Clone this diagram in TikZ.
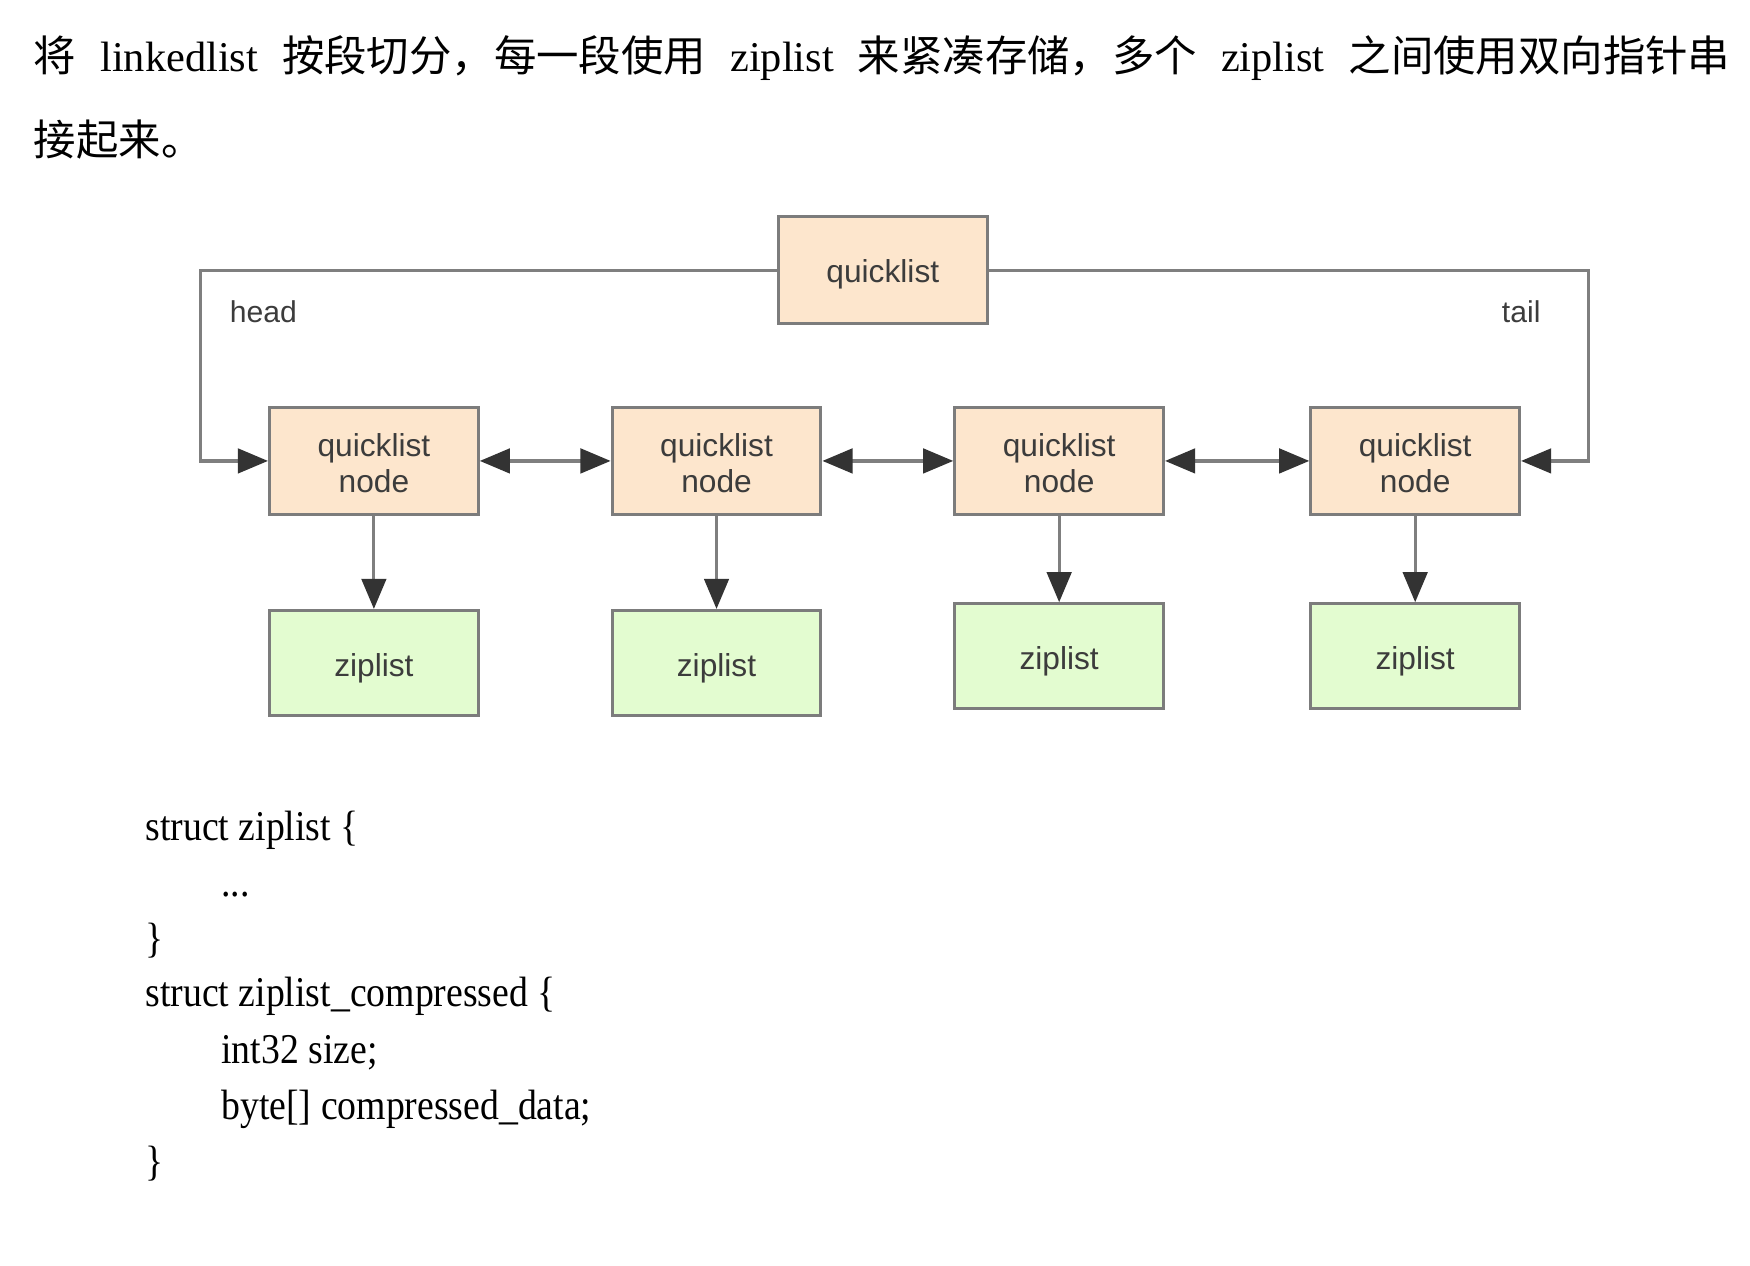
\documentclass[tikz,border=0pt]{standalone}
\usepackage{fontspec}
\setmainfont{Liberation Serif}
\newfontfamily\cjk{Noto Sans CJK SC}
\newfontfamily\diag{Liberation Sans}
\newfontfamily\codefont[FakeStretch=0.89]{Liberation Serif}
\usetikzlibrary{arrows.meta}
\definecolor{peach}{HTML}{FDE6CD}
\definecolor{mint}{HTML}{E3FCD0}
\definecolor{edge}{HTML}{7C7C7C}
\definecolor{wire}{HTML}{7F7F7F}
\definecolor{tip}{HTML}{333333}
\definecolor{dtext}{HTML}{3C3C3C}
\tikzset{
  qbox/.style={draw=edge, line width=1.4pt, fill=peach, minimum width=93.5pt, minimum height=48pt,
    align=center, text=dtext, font=\diag\fontsize{14.2pt}{16.5pt}\selectfont, inner sep=0pt},
  onebox/.style={qbox, text height=14.3pt, text depth=3pt},
  twobox/.style={qbox, text height=28.6pt, text depth=0pt},
  zbox/.style={qbox, fill=mint, minimum height=47pt, text height=15.3pt, text depth=3pt},
  wirel/.style={draw=wire, line width=1.4pt},
  tiphead/.style={-{Triangle[length=13.5pt,width=11pt,color=tip,fill=tip]}},
  dualhead/.style={{Triangle[length=13.5pt,width=11pt,color=tip,fill=tip]}-{Triangle[length=13.5pt,width=11pt,color=tip,fill=tip]}},
  lbl/.style={text=dtext, font=\diag\fontsize{13.5pt}{16.5pt}\selectfont, inner sep=0pt},
  para/.style={anchor=base west, inner sep=0pt, font=\fontsize{19pt}{23pt}\selectfont, text=black},
  code/.style={para, font=\codefont\fontsize{19pt}{23pt}\selectfont},
}
\begin{document}
\begin{tikzpicture}[x=0.5pt,y=-0.5pt]
\useasboundingbox (0,0) rectangle (1568,1134);
% paragraph
\node[para] (p1) at (30,64) {\makebox[760pt][s]{{\cjk 将} linkedlist {\cjk 按段切分，每一段使用} ziplist {\cjk 来紧凑存储，多个} ziplist {\cjk 之间使用双向指针串}}};
\node[para] (p2) at (30,139) {{\cjk 接起来。}};
% boxes
\node[onebox] (qtop) at (791,242) {quicklist};
\node[twobox] (n1) at (335,413) {quicklist\\node};
\node[twobox] (n2) at (642,413) {quicklist\\node};
\node[twobox] (n3) at (949,413) {quicklist\\node};
\node[twobox] (n4) at (1268,413) {quicklist\\node};
\node[zbox] (z1) at (335,594) {ziplist};
\node[zbox] (z2) at (642,594) {ziplist};
\node[zbox] (z3) at (949,588) {ziplist};
\node[zbox] (z4) at (1268,588) {ziplist};
% labels
\node[lbl] (lh) at (236,279) {head};
\node[lbl] (lt) at (1363,279) {tail};
% connectors
\coordinate (hk) at (180,413);
\coordinate (tk) at (1423,413);
\draw[wirel, tiphead] (qtop.west) -| (hk) -- (n1.west);
\draw[wirel, tiphead] (qtop.east) -| (tk) -- (n4.east);
\draw[wirel, dualhead] (n1.east) -- (n2.west);
\draw[wirel, dualhead] (n2.east) -- (n3.west);
\draw[wirel, dualhead] (n3.east) -- (n4.west);
\draw[wirel, tiphead] (n1.south) -- (z1.north);
\draw[wirel, tiphead] (n2.south) -- (z2.north);
\draw[wirel, tiphead] (n3.south) -- (z3.north);
\draw[wirel, tiphead] (n4.south) -- (z4.north);
% code
\node[code] (c1) at (130,753) {struct ziplist \{};
\node[code] (c2) at (198,803) {...};
\node[code] (c3) at (130,853) {\}};
\node[code] (c4) at (130,902) {struct ziplist\_compressed \{};
\node[code] (c5) at (198,953) {int32 size;};
\node[code] (c6) at (198,1003) {byte[] compressed\_data;};
\node[code] (c7) at (130,1053) {\}};
\end{tikzpicture}
\end{document}
